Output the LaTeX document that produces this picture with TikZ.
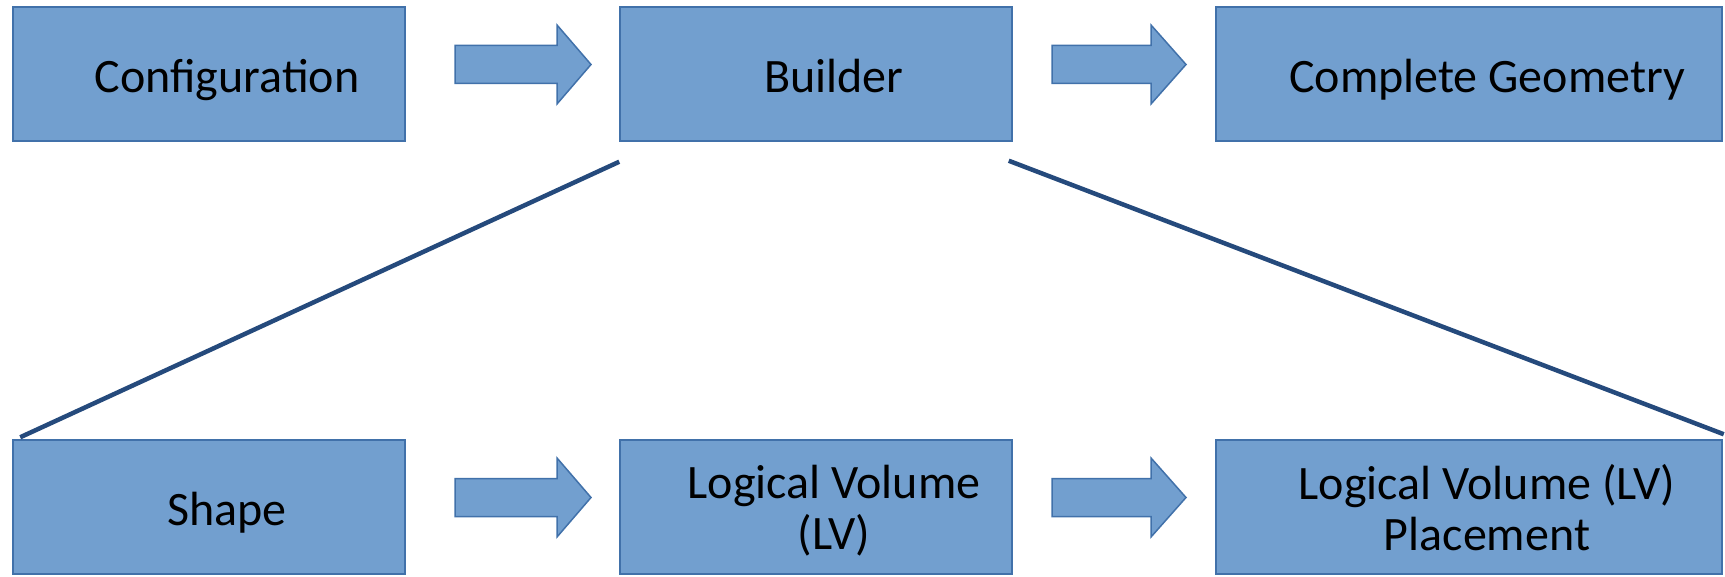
\documentclass[tikz,border=0pt]{standalone}
\usepackage{fontspec}
\setmainfont{Carlito}
\usetikzlibrary{calc}
\definecolor{boxfill}{RGB}{114,159,207}
\definecolor{boxline}{RGB}{65,113,170}
\definecolor{linkline}{RGB}{37,74,124}
\tikzset{
  box/.style={draw=boxline, fill=boxfill, line width=1.5pt, inner sep=0pt,
    minimum height=134pt, align=center, font=\fontsize{48}{51}\selectfont, text=black,
    text depth=0pt},
  oneline/.style={text height=37pt},
  narrow/.style={box, minimum width=392pt},
  wide/.style={box, minimum width=506pt},
  blockarrow/.style={draw=boxline, fill=boxfill, line width=1.5pt, line join=miter},
  link/.style={draw=linkline, line width=4.5pt}
}
\newcommand{\sh}{\hspace*{36pt}}
\begin{document}
\begin{tikzpicture}[x=1pt,y=-1pt]
\useasboundingbox (0,0) rectangle (1725,577);
% top row
\node[narrow, oneline] (cfg) at (209,74) {\sh Configuration};
\node[narrow, oneline] (bld) at (816,74) {\sh Builder};
\node[wide, oneline] (geo) at (1469,74) {\sh Complete Geometry};
% bottom row
\node[narrow, oneline] (shp) at (209,507) {\sh Shape};
\node[narrow] (lv) at (816,507) {\sh Logical Volume\\\sh (LV)};
\node[wide] (lvp) at (1469,507) {\sh Logical Volume (LV)\\\sh Placement};
% block arrows
\foreach \xa/\xh/\xt/\yc in {455/557/591/64.5, 1052/1151/1186/64.5, 455/557/591/497.5, 1052/1151/1186/497.5}{
  \draw[blockarrow] (\xa,\yc-19) -- (\xh,\yc-19) -- (\xh,\yc-39.5) -- (\xt,\yc) -- (\xh,\yc+39.5) -- (\xh,\yc+19) -- (\xa,\yc+19) -- cycle;
}
% links
\coordinate (b1) at ($(bld.south west)+(0,20)$);
\coordinate (b2) at ($(bld.south east)+(-4,19)$);
\coordinate (s1) at ($(shp.north west)+(8,-2)$);
\coordinate (p1) at ($(lvp.north east)+(1,-5)$);
\draw[link] (b1) -- (s1);
\draw[link] (b2) -- (p1);
\end{tikzpicture}
\end{document}
